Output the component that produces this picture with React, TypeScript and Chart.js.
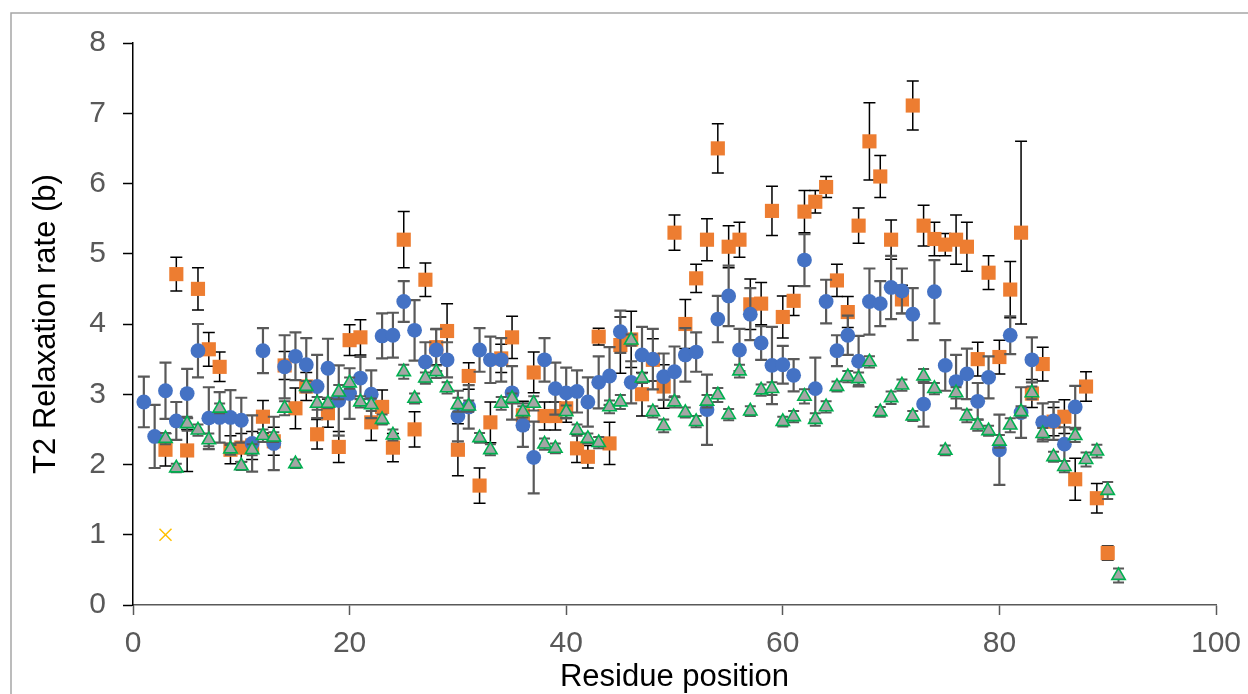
import React, { useEffect, useRef } from "react";
import { Chart, registerables } from "chart.js";
Chart.register(...registerables);

const residues = [
  1, 2, 3, 4, 5, 6, 7, 8, 9, 10, 11, 12, 13, 14, 15, 16, 17, 18, 19, 20,
  21, 22, 23, 24, 25, 26, 27, 28, 29, 30, 31, 32, 33, 34, 35, 36, 37, 38, 39, 40,
  41, 42, 43, 44, 45, 46, 47, 48, 49, 50, 51, 52, 53, 54, 55, 56, 57, 58, 59, 60,
  61, 62, 63, 64, 65, 66, 67, 68, 69, 70, 71, 72, 73, 74, 75, 76, 77, 78, 79, 80,
  81, 82, 83, 84, 85, 86, 87, 88, 89, 90, 91,
];

const circleValues: (number | null)[] = [
  2.89, 2.4, 3.05, 2.62, 3.01, 3.62, 2.66, 2.67, 2.67, 2.63, 2.3, 3.62, 2.3, 3.39, 3.54, 3.42, 3.11, 3.37, 2.91, 3.01,
  3.23, 3.0, 3.83, 3.84, 4.32, 3.91, 3.46, 3.63, 3.49, 2.69, 2.82, 3.63, 3.49, 3.49, 3.02, 2.56, 2.1, 3.49, 3.08, 3.02,
  3.04, 2.89, 3.17, 3.26, 3.89, 3.17, 3.56, 3.5, 3.25, 3.32, 3.56, 3.6, 2.78, 4.07, 4.4, 3.63, 4.14, 3.73, 3.41, 3.42,
  3.27, 4.91, 3.08, 4.32, 3.62, 3.84, 3.47, 4.32, 4.29, 4.52, 4.47, 4.14, 2.86, 4.46, 3.41, 3.18, 3.29, 2.9, 3.24, 2.21,
  3.84, 2.74, 3.49, 2.6, 2.62, 2.29, 2.82, null, null, null, null,
];
const circleErrors: (number | null)[] = [
  0.36, 0.45, 0.4, 0.27, 0.35, 0.38, 0.44, 0.36, 0.39, 0.32, 0.4, 0.32, 0.38, 0.45, 0.34, 0.38, 0.45, 0.42, 0.5, 0.36,
  0.3, 0.34, 0.32, 0.32, 0.29, 0.43, 0.28, 0.3, 0.25, 0.36, 0.31, 0.31, 0.33, 0.31, 0.38, 0.31, 0.51, 0.31, 0.37, 0.36,
  0.3, 0.35, 0.37, 0.41, 0.3, 0.3, 0.4, 0.43, 0.33, 0.36, 0.38, 0.28, 0.5, 0.33, 0.43, 0.3, 0.37, 0.24, 0.55, 0.27,
  0.23, 0.37, 0.44, 0.31, 0.22, 0.28, 0.36, 0.47, 0.32, 0.45, 0.32, 0.37, 0.32, 0.45, 0.36, 0.38, 0.36, 0.26, 0.3, 0.5,
  0.27, 0.36, 0.32, 0.27, 0.27, 0.24, 0.3, null, null, null, null,
];

const squareValues: (number | null)[] = [
  null, null, 2.21, 4.71, 2.2, 4.5, 3.64, 3.39, 2.21, 2.24, 2.27, 2.68, 2.33, 3.41, 2.8, 3.11, 2.43, 2.73, 2.25, 3.77,
  3.81, 2.6, 2.82, 2.24, 5.2, 2.5, 4.63, 3.67, 3.9, 2.21, 3.26, 1.7, 2.6, 3.51, 3.81, 2.7, 3.31, 2.69, 2.69, 2.8,
  2.23, 2.11, 3.82, 2.3, 3.7, 3.78, 3.0, 3.49, 3.11, 5.3, 4.0, 4.65, 5.2, 6.5, 5.1, 5.2, 4.28, 4.29, 5.61, 4.1,
  4.33, 5.6, 5.74, 5.95, 4.62, 4.17, 5.4, 6.6, 6.1, 5.2, 4.35, 7.11, 5.4, 5.21, 5.13, 5.2, 5.1, 3.5, 4.73, 3.53,
  4.49, 5.3, 3.01, 3.43, 2.61, 2.68, 1.79, 3.11, 1.52, 0.74, null,
];
const squareErrors: (number | null)[] = [
  null, null, 0.23, 0.24, 0.3, 0.3, 0.24, 0.21, 0.2, 0.2, 0.2, 0.23, 0.2, 0.2, 0.29, 0.2, 0.21, 0.2, 0.22, 0.22,
  0.25, 0.26, 0.24, 0.2, 0.4, 0.25, 0.24, 0.25, 0.39, 0.37, 0.19, 0.25, 0.29, 0.2, 0.3, 0.2, 0.29, 0.2, 0.2, 0.2,
  0.2, 0.16, 0.12, 0.3, 0.4, 0.4, 0.31, 0.3, 0.31, 0.25, 0.35, 0.2, 0.3, 0.35, 0.3, 0.25, 0.36, 0.3, 0.35, 0.3,
  0.21, 0.3, 0.16, 0.15, 0.23, 0.22, 0.25, 0.55, 0.3, 0.28, 0.2, 0.35, 0.29, 0.24, 0.16, 0.35, 0.35, 0.24, 0.24, 0.24,
  0.4, 1.3, 0.2, 0.24, 0.2, 0.24, 0.3, 0.21, 0.21, 0.1, null,
];

const triangleValues: (number | null)[] = [
  null, null, 2.37, 1.95, 2.58, 2.49, 2.35, 2.8, 2.22, 1.98, 2.21, 2.41, 2.39, 2.8, 2.01, 3.11, 2.87, 2.87, 3.03, 3.16,
  2.89, 2.85, 2.64, 2.42, 3.32, 2.94, 3.23, 3.32, 3.09, 2.85, 2.83, 2.38, 2.21, 2.87, 2.94, 2.75, 2.87, 2.29, 2.23, 2.75,
  2.49, 2.37, 2.31, 2.82, 2.89, 3.77, 3.23, 2.75, 2.55, 2.89, 2.74, 2.61, 2.9, 2.99, 2.71, 3.33, 2.76, 3.06, 3.08, 2.61,
  2.68, 2.97, 2.64, 2.82, 3.11, 3.25, 3.22, 3.46, 2.75, 2.95, 3.13, 2.69, 3.26, 3.08, 2.2, 3.02, 2.69, 2.56, 2.48, 2.33,
  2.56, 2.75, 3.02, 2.44, 2.11, 1.97, 2.41, 2.07, 2.19, 1.63, 0.42,
];
const triangleErrors: (number | null)[] = [
  null, null, 0.08, 0.06, 0.1, 0.08, 0.09, 0.07, 0.08, 0.06, 0.08, 0.09, 0.07, 0.1, 0.06, 0.08, 0.09, 0.07, 0.1, 0.08,
  0.08, 0.09, 0.07, 0.08, 0.1, 0.07, 0.08, 0.09, 0.08, 0.1, 0.08, 0.07, 0.08, 0.09, 0.07, 0.08, 0.1, 0.08, 0.07, 0.09,
  0.08, 0.07, 0.08, 0.09, 0.1, 0.08, 0.07, 0.08, 0.09, 0.08, 0.07, 0.08, 0.09, 0.1, 0.08, 0.09, 0.07, 0.08, 0.09, 0.07,
  0.08, 0.1, 0.09, 0.08, 0.07, 0.08, 0.09, 0.08, 0.07, 0.09, 0.08, 0.07, 0.1, 0.08, 0.07, 0.08, 0.09, 0.08, 0.07, 0.09,
  0.1, 0.08, 0.09, 0.08, 0.07, 0.08, 0.09, 0.1, 0.09, 0.12, 0.1,
];

const crossPoint = { x: 3, y: 1.0 };

const xTicks = [0, 20, 40, 60, 80, 100];
const yTicks = [0, 1, 2, 3, 4, 5, 6, 7, 8];

const FONT = "'Liberation Sans', Arial, sans-serif";

function toPoints(vals: (number | null)[], errs: (number | null)[]) {
  const pts: { x: number; y: number; e: number }[] = [];
  vals.forEach((v, i) => {
    if (v !== null) pts.push({ x: residues[i], y: v, e: (errs[i] ?? 0) as number });
  });
  return pts;
}

const errorBarPlugin = {
  id: "errorBars",
  beforeDatasetDraw(chart: any, args: any) {
    const ds = chart.data.datasets[args.index];
    if (!ds.errColor) return;
    const yScale = chart.scales.y;
    const ctx = chart.ctx;
    ctx.save();
    ctx.strokeStyle = ds.errColor;
    ctx.lineWidth = ds.errWidth;
    const cap = ds.capWidth / 2;
    args.meta.data.forEach((el: any, i: number) => {
      const p = ds.data[i];
      if (!p || !p.e) return;
      const x = el.x;
      const yt = yScale.getPixelForValue(p.y + p.e);
      const yb = yScale.getPixelForValue(p.y - p.e);
      ctx.beginPath();
      ctx.moveTo(x, yt);
      ctx.lineTo(x, yb);
      ctx.moveTo(x - cap, yt);
      ctx.lineTo(x + cap, yt);
      ctx.moveTo(x - cap, yb);
      ctx.lineTo(x + cap, yb);
      ctx.stroke();
    });
    ctx.restore();
  },
};

const framePlugin = {
  id: "frame",
  beforeDraw(chart: any) {
    const ctx = chart.ctx;
    ctx.save();
    ctx.fillStyle = "#ffffff";
    ctx.fillRect(0, 0, chart.width, chart.height);
    ctx.strokeStyle = "#a6a6a6";
    ctx.lineWidth = 1.5;
    ctx.strokeRect(11, 13, 1400, 900);
    ctx.restore();
  },
};

export default function App() {
  const ref = useRef<HTMLCanvasElement>(null);
  useEffect(() => {
    if (!ref.current) return;
    const chart = new Chart(ref.current, {
      type: "scatter",
      data: {
        datasets: [
          {
            label: "cross",
            data: [crossPoint],
            pointStyle: "crossRot",
            pointRadius: 8.5,
            borderColor: "#FFC000",
            backgroundColor: "#FFC000",
            pointBorderWidth: 1.5,
            order: 0,
          } as any,
          {
            label: "triangle",
            data: toPoints(triangleValues, triangleErrors),
            pointStyle: "triangle",
            pointRadius: 7.7,
            backgroundColor: "#A5A5A5",
            borderColor: "#00B050",
            pointBorderWidth: 1.6,
            errColor: "#595959",
            errWidth: 2,
            capWidth: 11,
            order: 1,
          } as any,
          {
            label: "circle",
            data: toPoints(circleValues, circleErrors),
            pointStyle: "circle",
            pointRadius: 7.4,
            backgroundColor: "#4472C4",
            borderColor: "#4472C4",
            pointBorderWidth: 0,
            errColor: "#595959",
            errWidth: 2.2,
            capWidth: 12,
            order: 2,
          } as any,
          {
            label: "square",
            data: toPoints(squareValues, squareErrors),
            pointStyle: "rect",
            pointRadius: 10,
            backgroundColor: "#ED7D31",
            borderColor: "#ED7D31",
            pointBorderWidth: 0,
            errColor: "#000000",
            errWidth: 1.5,
            capWidth: 12,
            order: 3,
          } as any,
        ],
      },
      options: {
        responsive: false,
        animation: false,
        devicePixelRatio: 1,
        layout: { padding: { top: 43, right: 32, left: 0, bottom: 0 } },
        plugins: { legend: { display: false }, tooltip: { enabled: false } },
        scales: {
          x: {
            type: "linear",
            min: 0,
            max: 100,
            afterFit: (s: any) => {
              s.height = 89;
              s.paddingLeft = 0;
              s.paddingRight = 0;
            },
            afterBuildTicks: (s: any) => {
              s.ticks = xTicks.map((v) => ({ value: v }));
            },
            ticks: { font: { family: FONT, size: 30 }, color: "#595959", padding: 11, maxRotation: 0 },
            grid: { drawOnChartArea: false, drawTicks: true, tickLength: 10, tickColor: "#595959", tickWidth: 1.5 },
            border: { color: "#595959", width: 1.5 },
            title: {
              display: true,
              text: "Residue position",
              font: { family: FONT, size: 31 },
              color: "#000000",
              padding: { top: 0, bottom: -2 },
            },
          },
          y: {
            type: "linear",
            min: 0,
            max: 8,
            afterFit: (s: any) => {
              s.width = 133;
              s.paddingTop = 0;
              s.paddingBottom = 0;
            },
            afterBuildTicks: (s: any) => {
              s.ticks = yTicks.map((v) => ({ value: v }));
            },
            ticks: { font: { family: FONT, size: 30 }, color: "#595959", padding: 17 },
            grid: { drawOnChartArea: false, drawTicks: true, tickLength: 10, tickColor: "#000000", tickWidth: 1.5 },
            border: { color: "#000000", width: 1.5 },
            title: {
              display: true,
              text: "T2 Relaxation rate (b)",
              font: { family: FONT, size: 31 },
              color: "#000000",
              padding: { top: 28, bottom: 0 },
            },
          },
        },
      },
      plugins: [framePlugin, errorBarPlugin],
    } as any);
    return () => chart.destroy();
  }, []);
  return (
    <div style={{ position: "absolute", left: 0, top: 0, width: 1248, height: 694, overflow: "hidden" }}>
      <canvas ref={ref} width={1248} height={694} style={{ display: "block", width: 1248, height: 694 }} />
    </div>
  );
}
